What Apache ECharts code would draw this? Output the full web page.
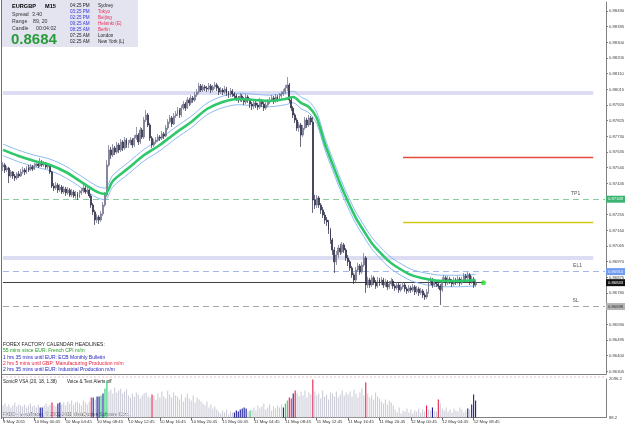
<!DOCTYPE html>
<html>
<head>
<meta charset="utf-8">
<script src="https://cdn.jsdelivr.net/npm/echarts@6/dist/echarts.min.js"></script>
<style>
html,body{margin:0;padding:0;background:#fff;}
#chart{width:625px;height:429px;}
</style>
</head>
<body>
<div id="chart"></div>
<script>
// EURGBP M15, 9 May 20:45 -> 12 May 09:00
const firstOpen = 0.87545;
const closes = [
  0.87557,0.87526,0.87538,0.87490,0.87514,0.87490,0.87478,0.87502,0.87490,0.87514,
  0.87526,0.87514,0.87538,0.87526,0.87545,0.87532,0.87551,0.87563,0.87551,0.87575,
  0.87557,0.87569,0.87545,0.87557,0.87514,0.87429,0.87417,0.87435,0.87405,0.87423,
  0.87393,0.87411,0.87387,0.87405,0.87375,0.87393,0.87369,0.87381,0.87363,0.87387,
  0.87399,0.87417,0.87393,0.87405,0.87369,0.87314,0.87272,0.87223,0.87241,0.87223,
  0.87260,0.87314,0.87375,0.87557,0.87648,0.87617,0.87660,0.87635,0.87678,0.87648,
  0.87696,0.87660,0.87708,0.87678,0.87690,0.87708,0.87678,0.87720,0.87738,0.87696,
  0.87769,0.87726,0.87829,0.87860,0.87799,0.87720,0.87678,0.87696,0.87708,0.87726,
  0.87720,0.87745,0.87732,0.87781,0.87817,0.87842,0.87805,0.87854,0.87866,0.87890,
  0.87860,0.87902,0.87926,0.87902,0.87951,0.87933,0.87963,0.87951,0.87981,0.87999,
  0.88036,0.88011,0.88030,0.88023,0.88017,0.88036,0.88011,0.88030,0.88042,0.88023,
  0.87999,0.88011,0.87999,0.88017,0.87993,0.87981,0.88005,0.87987,0.87975,0.87963,
  0.87951,0.87975,0.87957,0.87939,0.87969,0.87951,0.87926,0.87914,0.87933,0.87920,
  0.87908,0.87945,0.87926,0.87902,0.87920,0.87939,0.87951,0.87963,0.87945,0.87969,
  0.87957,0.87975,0.87987,0.87999,0.88023,0.88042,0.87951,0.87902,0.87860,0.87829,
  0.87781,0.87799,0.87738,0.87781,0.87829,0.87799,0.87842,0.87817,0.87344,0.87314,
  0.87357,0.87314,0.87284,0.87253,0.87223,0.87211,0.87163,0.87102,0.87041,0.86969,
  0.87011,0.87053,0.87029,0.87072,0.87041,0.86993,0.86969,0.86932,0.86890,0.86859,
  0.86920,0.86944,0.86908,0.86950,0.86993,0.86829,0.86859,0.86829,0.86872,0.86847,
  0.86823,0.86859,0.86841,0.86859,0.86829,0.86847,0.86817,0.86835,0.86853,0.86823,
  0.86811,0.86829,0.86799,0.86817,0.86829,0.86805,0.86793,0.86811,0.86799,0.86817,
  0.86787,0.86805,0.86781,0.86793,0.86768,0.86756,0.86787,0.86841,0.86859,0.86829,
  0.86847,0.86835,0.86823,0.86799,0.86859,0.86872,0.86841,0.86865,0.86853,0.86835,
  0.86859,0.86847,0.86865,0.86841,0.86859,0.86884,0.86872,0.86890,0.86847,0.86865,
  0.86829,0.86843
];
const highs = [
  0.87575,0.87569,0.87551,0.87545,0.87526,0.87520,0.87502,0.87514,0.87520,0.87532,
  0.87545,0.87538,0.87551,0.87557,0.87563,0.87557,0.87569,0.87581,0.87575,0.87599,
  0.87587,0.87581,0.87575,0.87569,0.87563,0.87520,0.87447,0.87453,0.87447,0.87441,
  0.87435,0.87429,0.87423,0.87423,0.87417,0.87411,0.87405,0.87399,0.87393,0.87405,
  0.87417,0.87435,0.87429,0.87423,0.87411,0.87381,0.87326,0.87284,0.87260,0.87253,
  0.87278,0.87332,0.87393,0.87587,0.87678,0.87666,0.87684,0.87672,0.87696,0.87690,
  0.87714,0.87708,0.87726,0.87720,0.87708,0.87726,0.87720,0.87738,0.87787,0.87751,
  0.87787,0.87781,0.87848,0.87890,0.87872,0.87811,0.87732,0.87714,0.87726,0.87745,
  0.87738,0.87763,0.87757,0.87799,0.87835,0.87860,0.87854,0.87872,0.87884,0.87908,
  0.87902,0.87920,0.87945,0.87939,0.87969,0.87963,0.87981,0.87975,0.87999,0.88017,
  0.88054,0.88048,0.88048,0.88042,0.88036,0.88054,0.88048,0.88042,0.88060,0.88054,
  0.88036,0.88030,0.88023,0.88036,0.88030,0.88005,0.88023,0.88017,0.87999,0.87987,
  0.87975,0.87993,0.87987,0.87969,0.87987,0.87981,0.87963,0.87939,0.87951,0.87945,
  0.87933,0.87963,0.87957,0.87939,0.87939,0.87957,0.87969,0.87981,0.87975,0.87987,
  0.87981,0.87993,0.88005,0.88017,0.88042,0.88090,0.88054,0.87963,0.87914,0.87872,
  0.87842,0.87817,0.87811,0.87799,0.87848,0.87842,0.87860,0.87854,0.87848,0.87375,
  0.87375,0.87369,0.87326,0.87302,0.87272,0.87241,0.87223,0.87175,0.87114,0.87059,
  0.87035,0.87072,0.87078,0.87090,0.87084,0.87053,0.87011,0.86981,0.86944,0.86902,
  0.86938,0.86963,0.86956,0.86969,0.87023,0.87005,0.86878,0.86872,0.86890,0.86884,
  0.86859,0.86878,0.86872,0.86878,0.86872,0.86865,0.86859,0.86853,0.86872,0.86865,
  0.86835,0.86847,0.86841,0.86835,0.86847,0.86841,0.86817,0.86829,0.86823,0.86835,
  0.86829,0.86823,0.86817,0.86811,0.86805,0.86781,0.86805,0.86859,0.86878,0.86872,
  0.86865,0.86859,0.86847,0.86835,0.86878,0.86890,0.86884,0.86884,0.86878,0.86865,
  0.86878,0.86872,0.86884,0.86878,0.86878,0.86902,0.86896,0.86908,0.86902,0.86884,
  0.86878,0.86859
];
const lows = [
  0.87520,0.87508,0.87514,0.87447,0.87478,0.87472,0.87460,0.87466,0.87478,0.87484,
  0.87502,0.87496,0.87502,0.87514,0.87520,0.87520,0.87526,0.87545,0.87538,0.87545,
  0.87545,0.87545,0.87532,0.87532,0.87502,0.87417,0.87399,0.87405,0.87387,0.87393,
  0.87381,0.87381,0.87369,0.87375,0.87363,0.87363,0.87357,0.87351,0.87344,0.87357,
  0.87375,0.87387,0.87381,0.87381,0.87357,0.87296,0.87253,0.87193,0.87205,0.87199,
  0.87211,0.87247,0.87302,0.87363,0.87545,0.87593,0.87605,0.87617,0.87623,0.87629,
  0.87635,0.87641,0.87648,0.87660,0.87660,0.87678,0.87660,0.87666,0.87708,0.87678,
  0.87684,0.87714,0.87714,0.87817,0.87787,0.87702,0.87660,0.87666,0.87684,0.87696,
  0.87702,0.87708,0.87714,0.87726,0.87769,0.87805,0.87787,0.87799,0.87842,0.87854,
  0.87842,0.87848,0.87890,0.87884,0.87896,0.87914,0.87920,0.87933,0.87939,0.87969,
  0.87987,0.87999,0.87999,0.88005,0.87999,0.88005,0.87993,0.87999,0.88017,0.88005,
  0.87981,0.87987,0.87981,0.87987,0.87975,0.87963,0.87969,0.87969,0.87957,0.87945,
  0.87933,0.87939,0.87939,0.87920,0.87926,0.87933,0.87902,0.87890,0.87896,0.87902,
  0.87890,0.87896,0.87908,0.87884,0.87890,0.87908,0.87926,0.87939,0.87926,0.87933,
  0.87939,0.87945,0.87963,0.87975,0.87987,0.88005,0.87933,0.87884,0.87842,0.87811,
  0.87763,0.87757,0.87666,0.87726,0.87769,0.87781,0.87787,0.87799,0.87266,0.87290,
  0.87296,0.87296,0.87260,0.87235,0.87199,0.87187,0.87138,0.87078,0.87011,0.86902,
  0.86950,0.86993,0.87011,0.87017,0.87023,0.86975,0.86944,0.86914,0.86872,0.86835,
  0.86847,0.86908,0.86890,0.86896,0.86938,0.86781,0.86811,0.86811,0.86817,0.86829,
  0.86805,0.86811,0.86823,0.86829,0.86811,0.86817,0.86799,0.86805,0.86823,0.86805,
  0.86793,0.86799,0.86781,0.86787,0.86805,0.86787,0.86775,0.86781,0.86781,0.86787,
  0.86768,0.86775,0.86762,0.86768,0.86750,0.86738,0.86744,0.86775,0.86829,0.86811,
  0.86817,0.86817,0.86805,0.86708,0.86787,0.86847,0.86823,0.86829,0.86835,0.86817,
  0.86823,0.86829,0.86835,0.86823,0.86829,0.86847,0.86853,0.86859,0.86829,0.86835,
  0.86811,0.86817
];

// SonicR dragon (EMA of close, high, low), read every few bars
const maBars = [0,8,16,24,32,40,48,52,56,64,72,80,88,96,104,112,120,128,136,144,148,152,156,160,164,168,172,176,180,184,188,192,196,200,208,216,224,232,241];
const maMid = [0.87648,0.87611,0.87581,0.87557,0.87514,0.87453,0.87393,0.87381,0.87459,0.87538,0.87617,0.87678,0.87751,0.87817,0.87896,0.87939,0.87957,0.87951,0.87945,0.87957,0.87969,0.87933,0.87908,0.87842,0.87690,0.87563,0.87441,0.87332,0.87235,0.87157,0.87084,0.87029,0.86981,0.86944,0.86890,0.86865,0.86853,0.86853,0.86859];
const maUp = [0.87683,0.87646,0.87616,0.87592,0.87549,0.87488,0.87428,0.87416,0.87494,0.87573,0.87652,0.87713,0.87786,0.87852,0.87931,0.87974,0.87992,0.87986,0.87980,0.87992,0.88004,0.87968,0.87943,0.87877,0.87725,0.87598,0.87476,0.87367,0.87270,0.87192,0.87119,0.87064,0.87016,0.86979,0.86925,0.86900,0.86888,0.86888,0.86894];
const maDn = [0.87613,0.87576,0.87546,0.87522,0.87479,0.87418,0.87358,0.87346,0.87424,0.87503,0.87582,0.87643,0.87716,0.87782,0.87861,0.87904,0.87922,0.87916,0.87910,0.87922,0.87934,0.87898,0.87873,0.87807,0.87655,0.87528,0.87406,0.87297,0.87200,0.87122,0.87049,0.86994,0.86946,0.86909,0.86855,0.86830,0.86818,0.86818,0.86824];

// VSA volume
const volumes = [
  714,819,662,767,610,714,871,662,767,714,
  662,767,610,714,819,662,714,610,767,610,610,
  714,819,662,767,871,714,662,819,871,
  767,871,714,923,819,975,767,871,923,819,714,975,871,767,923,
  1132,1132,1028,1184,1184,1236,1341,1602,2019,
  1445,1550,1341,1654,1393,1497,1602,1341,1445,1550,
  1236,1132,1341,1184,1393,1289,1080,1236,1341,1393,1184,1132,1289,
  1236,1028,1341,1132,1445,1184,1080,1497,1289,1132,1393,1236,
  1184,1028,1289,923,1132,1341,1080,975,1236,871,1132,1028,923,
  819,714,923,610,767,558,662,506,
  401,297,453,349,506,245,401,349,
  349,453,401,506,558,610,558,401,453,
  506,610,453,714,558,662,819,506,610,767,453,662,558,714,610,767,
  610,819,975,1132,1080,1341,1497,
  1341,1184,1445,1236,1497,1132,1393,1289,2072,
  1445,1236,1341,1080,1497,1184,1289,1028,1393,
  1341,1184,1445,1132,1289,1497,1236,1393,
  1289,1445,1184,1550,1341,1132,1393,1602,1236,1915,
  1341,1132,1236,1028,1393,1184,1080,
  923,819,1028,767,975,871,714,
  506,349,610,297,453,
  401,558,349,506,297,453,401,558,349,506,401,
  714,506,453,610,453,401,1028,819,
  558,453,610,401,506,349,558,453,401,610,506,349,453,
  558,506,767,1289,975
];
const redBars = [25,45,76,146,147,149,158,185,216,222];
const blueBars = [19,20,28,29,46,48,49,51,118,119,120,121,122,123,124,143,148,219,237,239,240,241];
const greenBars = [50,52,53,126,144,145];

const priceTicks = [0.86305,0.86400,0.86495,0.86590,0.86685,0.86780,0.86875,0.86970,0.87065,0.87160,0.87255,0.87350,0.87445,0.87540,0.87635,0.87730,0.87825,0.87920,0.88015,0.88110,0.88205,0.88300,0.88395,0.88490];
const timeLabels = ['9 May 2011','10 May 00:45','10 May 04:45','10 May 08:45','10 May 12:45','10 May 16:45','10 May 20:45','11 May 00:45','11 May 04:45','11 May 08:45','11 May 12:45','11 May 16:45','11 May 20:45','12 May 00:45','12 May 04:45','12 May 08:45'];

// levels drawn on the chart
const zoneTop = 0.87995, zoneBottom = 0.86993;
const redLevel = 0.87601, yellowLevel = 0.87211;
const tp1 = 0.87349, el1 = 0.86910, sl = 0.86698, bid = 0.86843;
const objStart = 204, objEnd = 301, dotBar = 245;
const volMin = 88.2, volMax = 2096.2;

const FONT = "'Liberation Sans', Arial, sans-serif";
const totalBars = 308;
const cats = [];
for (let i = 0; i < totalBars; i++) cats.push(String(i));

const candles = closes.map((c, i) => [i === 0 ? firstOpen : closes[i - 1], c, lows[i], highs[i]]);
const volData = volumes.map((v, i) => {
  let col = '#cdcdd9';
  if (redBars.includes(i)) col = '#e8204a';
  else if (blueBars.includes(i)) col = '#1c1c9a';
  else if (greenBars.includes(i)) col = '#2ecc71';
  return { value: v, itemStyle: { color: col } };
});
const pairs = arr => maBars.map((b, k) => [b, arr[k]]);

function priceTag(v, bg, fg) {
  return { show: true, position: 'end', distance: 1, formatter: v.toFixed(5),
    backgroundColor: bg, color: fg, fontSize: 4.2, fontFamily: FONT, padding: [2, 2, 1, 2] };
}
function hLine(v, color, dashed, bg, fg) {
  return [
    { coord: [0, v], lineStyle: { color: color, width: 1, type: dashed ? [6, 4] : 'solid' },
      label: priceTag(v, bg, fg) },
    { coord: [totalBars - 1, v] }
  ];
}
function textAt(x, y, text, color, font) {
  return { type: 'text', x: x, y: y, silent: true,
    style: { text: text, fill: color, font: font, verticalAlign: 'middle', textVerticalAlign: 'middle' } };
}

const times = ['04:25 PM','03:25 PM','02:25 PM','09:25 AM','08:25 AM','07:25 AM','02:25 AM'];
const timeColors = ['#222','#3636dd','#3636dd','#3636dd','#3636dd','#222','#222'];
const cities = ['Sydney','Tokyo','Beijing','Helsinki (E)','Berlin','London','New York (L)'];
const cityColors = ['#222','#e8305a','#e8305a','#e8305a','#e8305a','#222','#222'];
const headlines = ['FOREX FACTORY CALENDAR HEADLINES:','55 mins since EUR: French CPI m/m','1 hrs 35 mins until EUR: ECB Monthly Bulletin','2 hrs 5 mins until GBP: Manufacturing Production m/m','2 hrs 35 mins until EUR: Industrial Production m/m'];
const headColors = ['#222','#1e9a1e','#2424c0','#e8203a','#2424c0'];
const headY = [345, 351, 357.5, 364, 370];

const graphics = [
  { type: 'rect', shape: { x: 2, y: 0, width: 136, height: 47 }, style: { fill: '#e4e4f1' }, z: -1 },
  { type: 'line', shape: { x1: 1.5, y1: 0, x2: 1.5, y2: 419 }, style: { stroke: '#707070', lineWidth: 1 } },
  { type: 'line', shape: { x1: 2, y1: 377, x2: 606, y2: 377 }, style: { stroke: '#ecc4c4', lineWidth: 1, lineDash: [2, 2] } },
  textAt(12, 6, 'EURGBP', '#000', 'bold 5.6px ' + FONT),
  textAt(45, 6, 'M15', '#000', 'bold 5.6px ' + FONT),
  textAt(12, 15, 'Spread', '#333', '5.2px ' + FONT),
  textAt(32, 15, '3.40', '#333', '5.2px ' + FONT),
  textAt(12, 21.5, 'Range', '#333', '5.2px ' + FONT),
  textAt(33, 21.5, '89, 20', '#333', '5.2px ' + FONT),
  textAt(12, 28.2, 'Candle', '#333', '5.2px ' + FONT),
  textAt(36, 28.2, '00:04:02', '#333', '5.2px ' + FONT),
  textAt(11, 39.5, '0.8684', '#2a9a3a', 'bold 15px ' + FONT)
];
times.forEach((t, k) => {
  graphics.push(textAt(70, 5.8 + 6 * k, t, timeColors[k], '4.6px ' + FONT));
  graphics.push(textAt(98, 5.8 + 6 * k, cities[k], cityColors[k], '4.6px ' + FONT));
});
headlines.forEach((t, k) => graphics.push(textAt(3, headY[k], t, headColors[k], '5px ' + FONT)));
graphics.push(textAt(3, 381.5, 'SonicR VSA (20, 18, 1.38)', '#222', '4.6px ' + FONT));
graphics.push(textAt(67, 381.5, 'Voice & Text Alerts off', '#222', '4.6px ' + FONT));
graphics.push(textAt(3, 415, 'FXDD - MetaTrader, \u00a9 2001-2011 MetaQuotes Software Corp.', '#333', '4.6px ' + FONT));

const chart = echarts.init(document.getElementById('chart'));
const option = {
  animation: false,
  backgroundColor: '#ffffff',
  grid: [
    { left: 2, right: 19, top: 2, bottom: 55, outerBoundsMode: 'none' },
    { left: 2, right: 19, top: 379, bottom: 11.5, outerBoundsMode: 'none' }
  ],
  xAxis: [
    { type: 'category', gridIndex: 0, data: cats, boundaryGap: true,
      axisLine: { show: true, lineStyle: { color: '#808080' } },
      axisTick: { show: false }, axisLabel: { show: false }, splitLine: { show: false } },
    { type: 'category', gridIndex: 1, data: cats, boundaryGap: true,
      axisLine: { show: true, lineStyle: { color: '#808080' } },
      axisTick: { show: true, length: 3, alignWithLabel: true,
        interval: idx => idx % 16 === 0 && idx / 16 < timeLabels.length,
        lineStyle: { color: '#666' } },
      axisLabel: { show: true, align: 'left', margin: 2.5, fontSize: 4.3, color: '#333', fontFamily: FONT,
        interval: idx => idx % 16 === 0 && idx / 16 < timeLabels.length,
        formatter: (v, idx) => timeLabels[idx / 16] || '' },
      splitLine: { show: false } }
  ],
  yAxis: [
    { type: 'value', gridIndex: 0, position: 'right', min: 0.86289, max: 0.88545, scale: true,
      axisLine: { show: true, lineStyle: { color: '#808080' } },
      axisTick: { show: true, length: 2, customValues: priceTicks, lineStyle: { color: '#808080' } },
      axisLabel: { show: true, customValues: priceTicks, margin: 3, fontSize: 4.2, color: '#444', fontFamily: FONT,
        formatter: v => v.toFixed(5) },
      splitLine: { show: false } },
    { type: 'value', gridIndex: 1, position: 'right', min: volMin, max: volMax,
      axisLine: { show: true, lineStyle: { color: '#808080' } },
      axisTick: { show: false },
      axisLabel: { show: true, customValues: [volMin, volMax], margin: 3, fontSize: 4.2, color: '#444', fontFamily: FONT,
        formatter: v => v.toFixed(1) },
      splitLine: { show: false } }
  ],
  graphic: graphics,
  series: [
    { // zones behind the candles
      type: 'line', xAxisIndex: 0, yAxisIndex: 0, data: [], z: 1,
      markLine: {
        silent: true, symbol: 'none', z: 1, label: { show: false },
        data: [
          [{ coord: [0, zoneTop] }, { coord: [objEnd, zoneTop] }],
          [{ coord: [0, zoneBottom] }, { coord: [objEnd, zoneBottom] }]
        ],
        lineStyle: { color: '#dcdcf2', width: 4, type: 'solid' }
      }
    },
    { type: 'line', xAxisIndex: 0, yAxisIndex: 0, data: pairs(maUp), smooth: 0.3, showSymbol: false,
      lineStyle: { color: '#8cbaf2', width: 1 }, z: 2 },
    { type: 'line', xAxisIndex: 0, yAxisIndex: 0, data: pairs(maDn), smooth: 0.3, showSymbol: false,
      lineStyle: { color: '#8cbaf2', width: 1 }, z: 2 },
    { // levels, objects and price tags
      type: 'line', xAxisIndex: 0, yAxisIndex: 0, data: [], z: 2,
      markLine: {
        silent: true, symbol: 'none', z: 2,
        label: { show: false },
        data: [
          hLine(tp1, '#8ccba0', true, '#3cb371', '#e8ffe8'),
          hLine(el1, '#a4b6ea', true, '#6f9cf0', '#eef'),
          hLine(sl, '#a8a8a8', true, '#b4b4b4', '#333'),
          hLine(bid, 'rgba(255,255,255,0)', false, '#101010', '#fff'),
          [{ coord: [objStart, redLevel], lineStyle: { color: '#e84a3c', width: 1.3, type: 'solid' } }, { coord: [objEnd, redLevel] }],
          [{ coord: [objStart, yellowLevel], lineStyle: { color: '#d4c814', width: 1.3, type: 'solid' } }, { coord: [objEnd, yellowLevel] }],
          [{ coord: [0, bid], lineStyle: { color: '#404040', width: 1, type: 'solid' } }, { coord: [dotBar, bid] }]
        ]
      },
      markPoint: {
        silent: true, symbol: 'circle', symbolSize: 0,
        label: { show: true, position: 'top', distance: 3, fontSize: 5, color: '#555', fontFamily: FONT },
        data: [
          { coord: [292, tp1], label: { formatter: 'TP1' } },
          { coord: [293, el1], label: { formatter: 'EL1' } },
          { coord: [292, sl], label: { formatter: 'SL' } }
        ]
      }
    },
    { type: 'candlestick', xAxisIndex: 0, yAxisIndex: 0, data: candles, barWidth: 1.4, z: 3,
      itemStyle: { color: '#7c7c96', color0: '#262642', borderColor: '#6e6e88', borderColor0: '#262642', borderWidth: 0.7 } },
    { type: 'line', xAxisIndex: 0, yAxisIndex: 0, data: pairs(maMid), smooth: 0.3, showSymbol: false,
      lineStyle: { color: '#2ec86a', width: 2.6 }, z: 5 },
    { type: 'scatter', xAxisIndex: 0, yAxisIndex: 0, data: [[dotBar, bid]], symbolSize: 5,
      itemStyle: { color: '#22e022' }, z: 6 },
    { type: 'bar', xAxisIndex: 1, yAxisIndex: 1, data: volData, barWidth: 1.1, z: 2 }
  ]
};
chart.setOption(option);
</script>
</body>
</html>
